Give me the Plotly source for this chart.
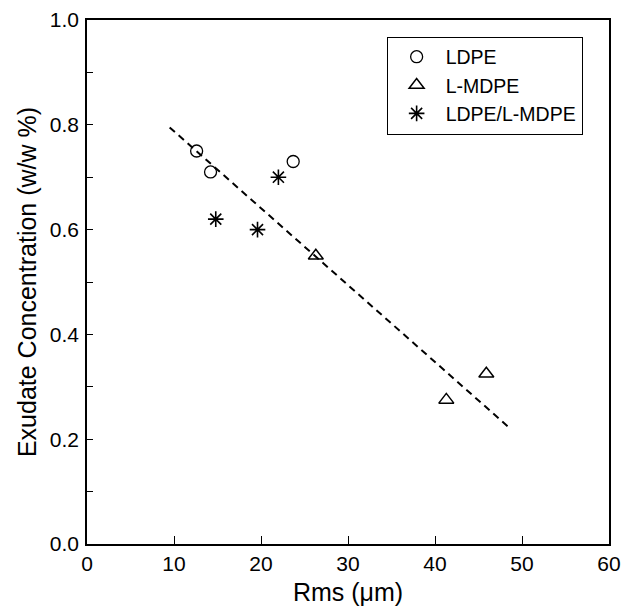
import plotly.graph_objects as go

# Data
ldpe_x = [12.6, 14.2, 23.7]
ldpe_y = [0.75, 0.71, 0.73]
lmdpe_x = [26.3, 41.3, 45.9]
lmdpe_y = [0.55, 0.275, 0.325]
blend_x = [14.8, 19.6, 22.0]
blend_y = [0.62, 0.60, 0.70]
fit_x = [9.5, 48.4]
fit_y = [0.795, 0.224]

FONT = "Arial, Liberation Sans, Helvetica, sans-serif"

fig = go.Figure()
fig.add_trace(go.Scatter(x=fit_x, y=fit_y, mode="lines",
                         line=dict(color="black", width=2, dash="7px,5px"),
                         showlegend=False, hoverinfo="skip"))
fig.add_trace(go.Scatter(x=ldpe_x, y=ldpe_y, mode="markers", name="LDPE",
                         marker=dict(symbol="circle-open", size=12, color="black",
                                     line=dict(width=1.3, color="black"))))
fig.add_trace(go.Scatter(x=lmdpe_x, y=lmdpe_y, mode="markers", name="L-MDPE",
                         marker=dict(symbol="triangle-up-open", size=13, color="black",
                                     line=dict(width=1.5, color="black"))))
fig.add_trace(go.Scatter(x=blend_x, y=blend_y, mode="markers", name="LDPE/L-MDPE",
                         marker=dict(symbol="asterisk-open", size=13, color="black",
                                     line=dict(width=1.6, color="black"))))

fig.update_layout(
    width=623, height=609,
    margin=dict(l=87, r=14, t=20, b=65),
    paper_bgcolor="white", plot_bgcolor="white",
    font=dict(family=FONT, size=21, color="black"),
    legend=dict(x=0.574, y=0.9685, xanchor="left", yanchor="top",
                bordercolor="black", borderwidth=1, bgcolor="white",
                itemwidth=48,
                font=dict(size=19.5), tracegroupgap=0),
    xaxis=dict(range=[0, 60], dtick=10, tick0=0, showgrid=False, zeroline=False,
               showline=True, linecolor="black", linewidth=1.5, mirror=True,
               ticks="inside", ticklen=8, tickcolor="black", tickwidth=1,
               title=dict(text="Rms (\u03bcm)", standoff=10),
               tickfont=dict(size=21), automargin=False),
    yaxis=dict(range=[0, 1.0], dtick=0.2, tick0=0, tickformat=".1f",
               showgrid=False, zeroline=False,
               showline=True, linecolor="black", linewidth=1.5, mirror=True,
               ticks="inside", ticklen=6, tickcolor="black", tickwidth=1,
               ticklabelstandoff=2,
               minor=dict(dtick=0.1, ticks="inside", ticklen=6, tickcolor="black"),
               title=dict(text="Exudate Concentration (w/w %)", standoff=6),
               tickfont=dict(size=21), automargin=False),
)

fig.write_html("out.html",
               config={"displayModeBar": False},
               post_script="document.body.style.margin='0';document.body.style.overflow='hidden';")
